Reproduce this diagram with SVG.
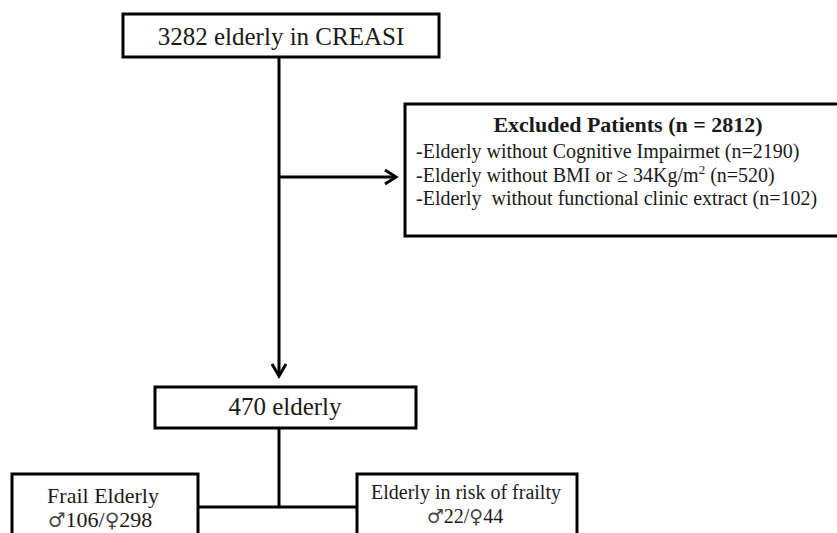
<svg xmlns="http://www.w3.org/2000/svg" width="837" height="533" viewBox="0 0 837 533">
<style>
.box{fill:#fff;stroke:#000;stroke-width:3}
.ln{fill:none;stroke:#000;stroke-width:3}
.t{font-family:"Liberation Serif","Times New Roman",serif;fill:#1a1a1a}
.c{text-anchor:middle}
.sym{font-family:"DejaVu Serif","DejaVu Sans",serif;fill:#444}
</style>
<rect width="837" height="533" fill="#fff"/>
<g id="connectors">
<path class="ln" d="M279,57 V376"/>
<path class="ln" d="M272,364 L279,376 L286,364"/>
<path class="ln" d="M279,177 H396"/>
<path class="ln" d="M385,170 L396,177 L385,184"/>
<path class="ln" d="M279,428 V507"/>
<path class="ln" d="M198,507 H357"/>
</g>
<g id="n1">
<rect class="box" x="123" y="14" width="316" height="43"/>
<text class="t c" x="281" y="45" font-size="25">3282 elderly in CREASI</text>
</g>
<g id="n2">
<rect class="box" x="405" y="104" width="440" height="132"/>
<text class="t c" x="628" y="132" font-size="22" font-weight="bold">Excluded Patients (n = 2812)</text>
<text class="t" x="416" y="158" font-size="20">-Elderly without Cognitive Impairmet (n=2190)</text>
<text class="t" x="416" y="182" font-size="20">-Elderly without BMI or ≥ 34Kg/m<tspan font-size="13" dy="-8">2</tspan><tspan dy="8"> (n=520)</tspan></text>
<text class="t" x="416" y="205" font-size="20" xml:space="preserve">-Elderly  without functional clinic extract (n=102)</text>
</g>
<g id="n3">
<rect class="box" x="155" y="387" width="261" height="41"/>
<text class="t c" x="285" y="415" font-size="25">470 elderly</text>
</g>
<g id="n4">
<rect class="box" x="12" y="474" width="186" height="70"/>
<text class="t c" x="103" y="503" font-size="22">Frail Elderly</text>
<text class="t c" x="100" y="527" font-size="22"><tspan class="sym" font-size="20">♂</tspan>106/<tspan class="sym" font-size="20">♀</tspan>298</text>
</g>
<g id="n5">
<rect class="box" x="357" y="474" width="220" height="70"/>
<text class="t c" x="466" y="499" font-size="20">Elderly in risk of frailty</text>
<text class="t c" x="465" y="523" font-size="20"><tspan class="sym" font-size="19">♂</tspan>22/<tspan class="sym" font-size="19">♀</tspan>44</text>
</g>
</svg>
